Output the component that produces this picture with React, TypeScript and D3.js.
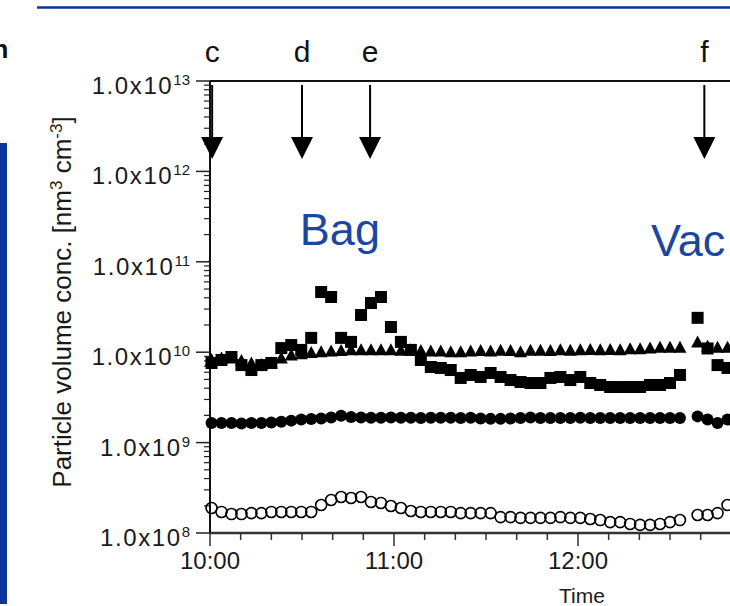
import React from "react";
import * as d3 from "d3";

// scan start times in minutes after 10:00 (instrument off between ~12:33 and ~12:39)
const scanMinutes = [
  0.5, 3.75, 7, 10.25, 13.5, 16.75, 20, 23.25, 26.5, 29.75,
  33, 36.25, 39.5, 42.75, 46, 49.25, 52.5, 55.75, 59, 62.25,
  65.5, 68.75, 72, 75.25, 78.5, 81.75, 85, 88.25, 91.5, 94.75,
  98, 101.25, 104.5, 107.75, 111, 114.25, 117.5, 120.75, 124, 127.25,
  130.5, 133.75, 137, 140.25, 143.5, 146.75, 150, 153.25,
  159, 162.25, 165.5, 168.75,
];

// filled squares
const squareVals = [
  7.6e9, 8.2e9, 8.85e9, 7.2e9, 6.35e9, 7.2e9, 7.6e9, 1.11e10, 1.2e10, 1.06e10,
  1.44e10, 4.63e10, 4.08e10, 1.44e10, 1.3e10, 2.58e10, 3.5e10, 4.08e10, 1.9e10, 1.3e10,
  1.06e10, 8.2e9, 6.86e9, 6.69e9, 6.35e9, 5.19e9, 5.6e9, 5.32e9, 5.89e9, 5.32e9,
  4.92e9, 4.68e9, 4.56e9, 4.56e9, 5.19e9, 5.32e9, 4.92e9, 5.32e9, 4.56e9, 4.34e9,
  4.12e9, 4.12e9, 4.12e9, 4.12e9, 4.34e9, 4.34e9, 4.56e9, 5.6e9,
  2.4e10, 1.1e10, 7.2e9, 6.7e9,
];

// filled triangles
const triangleVals = [
  8.2e9, 8.5e9, 8.5e9, 8.0e9, 7.5e9, 7.2e9, 7.5e9, 8.5e9, 9.2e9, 9.5e9,
  9.8e9, 1.0e10, 1.02e10, 1.03e10, 1.05e10, 1.05e10, 1.05e10, 1.05e10, 1.05e10, 1.04e10,
  1.05e10, 1.03e10, 1.02e10, 1.02e10, 1.0e10, 1.0e10, 1.02e10, 1.03e10, 1.02e10, 1.04e10,
  1.03e10, 1.0e10, 1.04e10, 1.04e10, 1.03e10, 1.05e10, 1.04e10, 1.05e10, 1.06e10, 1.05e10,
  1.06e10, 1.05e10, 1.08e10, 1.08e10, 1.1e10, 1.12e10, 1.12e10, 1.12e10,
  1.28e10, 1.15e10, 1.12e10, 1.12e10,
];

// filled circles
const dotVals = [
  1.65e9, 1.65e9, 1.65e9, 1.63e9, 1.65e9, 1.65e9, 1.67e9, 1.7e9, 1.75e9, 1.8e9,
  1.82e9, 1.85e9, 1.9e9, 1.98e9, 1.92e9, 1.9e9, 1.88e9, 1.88e9, 1.9e9, 1.88e9,
  1.88e9, 1.87e9, 1.88e9, 1.88e9, 1.88e9, 1.87e9, 1.88e9, 1.85e9, 1.83e9, 1.83e9,
  1.85e9, 1.87e9, 1.9e9, 1.87e9, 1.87e9, 1.87e9, 1.87e9, 1.88e9, 1.87e9, 1.87e9,
  1.87e9, 1.87e9, 1.87e9, 1.87e9, 1.87e9, 1.87e9, 1.87e9, 1.87e9,
  1.95e9, 1.8e9, 1.65e9, 1.8e9,
];

// open circles
const ringVals = [
  1.89e8, 1.71e8, 1.62e8, 1.62e8, 1.66e8, 1.66e8, 1.71e8, 1.71e8, 1.71e8, 1.71e8,
  1.71e8, 2.04e8, 2.32e8, 2.5e8, 2.44e8, 2.5e8, 2.2e8, 2.15e8, 1.99e8, 1.89e8,
  1.75e8, 1.71e8, 1.71e8, 1.71e8, 1.71e8, 1.66e8, 1.66e8, 1.66e8, 1.66e8, 1.5e8,
  1.5e8, 1.47e8, 1.47e8, 1.47e8, 1.47e8, 1.5e8, 1.47e8, 1.47e8, 1.43e8, 1.39e8,
  1.32e8, 1.32e8, 1.26e8, 1.23e8, 1.23e8, 1.26e8, 1.32e8, 1.39e8,
  1.58e8, 1.58e8, 1.66e8, 2.04e8,
];

const events = [
  { label: "c", min: 0.7 },
  { label: "d", min: 30 },
  { label: "e", min: 52.2 },
  { label: "f", min: 161.2 },
];
const notes = [
  { text: "Bag", min: 29.3, conc: 1.53e11 },
  { text: "Vac", min: 143.8, conc: 1.16e11 },
];
const decades = [8, 9, 10, 11, 12, 13];
const hourLabels = ["10:00", "11:00", "12:00", "13:00"];

const FONT = "'Liberation Sans', Arial, sans-serif";

const App = () => {
  const svgRef = React.useRef<SVGSVGElement>(null);

  React.useEffect(() => {
    const svg = d3.select(svgRef.current);
    svg.selectAll("*").remove();

    const left = 210;
    const top = 81;
    const bottom = 533;
    const x = d3.scaleLinear().domain([0, 180]).range([left, 762]);
    const y = d3.scaleLog().domain([1e8, 1e13]).range([bottom, top]);

    // slide decoration
    svg.append("line").attr("x1", 37).attr("x2", 730).attr("y1", 7.5).attr("y2", 7.5)
      .attr("stroke", "#0a3799").attr("stroke-width", 2.5);
    svg.append("rect").attr("x", 0).attr("y", 143).attr("width", 7).attr("height", 461)
      .attr("fill", "#0a3799");
    svg.append("text").attr("x", 8.5).attr("y", 58).attr("text-anchor", "end")
      .attr("font-family", FONT).attr("font-weight", "bold").attr("font-size", 26)
      .attr("fill", "#111").text("n");

    const g = svg.append("g");

    // y ticks: minor and major
    decades.slice(0, -1).forEach((d) => {
      d3.range(2, 10).forEach((k) => {
        const yy = y(k * Math.pow(10, d));
        g.append("line").attr("x1", left - 6).attr("x2", left).attr("y1", yy).attr("y2", yy)
          .attr("stroke", "#222").attr("stroke-width", 1.2);
      });
    });
    decades.forEach((d) => {
      const yy = y(Math.pow(10, d));
      g.append("line").attr("x1", left - 14).attr("x2", left).attr("y1", yy).attr("y2", yy)
        .attr("stroke", "#222").attr("stroke-width", 1.5);
      const t = g.append("text").attr("x", 190).attr("y", yy + 13).attr("text-anchor", "end")
        .attr("font-family", FONT).attr("font-size", 24).attr("letter-spacing", 1.6)
        .attr("fill", "#1a1a1a");
      t.append("tspan").text("1.0x10");
      t.append("tspan").attr("dy", -9).attr("font-size", 15).attr("letter-spacing", 0).text(String(d));
    });

    // x ticks every 10 minutes
    d3.range(0, 181, 10).forEach((m) => {
      const xx = x(m);
      const major = m % 60 === 0;
      g.append("line").attr("x1", xx).attr("x2", xx).attr("y1", bottom)
        .attr("y2", bottom + (major ? 13 : 7)).attr("stroke", "#333").attr("stroke-width", 1.5);
    });
    hourLabels.forEach((lab, i) => {
      g.append("text").attr("x", x(i * 60)).attr("y", 569).attr("text-anchor", "middle")
        .attr("font-family", FONT).attr("font-size", 24).attr("fill", "#1a1a1a").text(lab);
    });

    // frame / axes
    g.append("line").attr("x1", left).attr("x2", 730).attr("y1", top).attr("y2", top)
      .attr("stroke", "#111").attr("stroke-width", 2);
    g.append("line").attr("x1", left).attr("x2", 730).attr("y1", bottom).attr("y2", bottom)
      .attr("stroke", "#333").attr("stroke-width", 2.5);
    g.append("line").attr("x1", left).attr("x2", left).attr("y1", top).attr("y2", bottom)
      .attr("stroke", "#111").attr("stroke-width", 2);

    // axis titles
    g.append("text").attr("x", 582).attr("y", 603).attr("text-anchor", "middle")
      .attr("font-family", FONT).attr("font-size", 21).attr("fill", "#1a1a1a").text("Time");
    const yl = g.append("text").attr("transform", "translate(71,302) rotate(-90)")
      .attr("text-anchor", "middle").attr("font-family", FONT).attr("font-size", 26)
      .attr("fill", "#1a1a1a");
    yl.append("tspan").text("Particle volume conc. [nm");
    yl.append("tspan").attr("dy", -9).attr("font-size", 17).text("3");
    yl.append("tspan").attr("dy", 9).text(" cm");
    yl.append("tspan").attr("dy", -9).attr("font-size", 17).text("-3");
    yl.append("tspan").attr("dy", 9).text("]");

    const pts = (vals: number[]) => scanMinutes.map((m, i) => ({ m, v: vals[i] }));

    // triangles
    g.selectAll("path.tri").data(pts(triangleVals)).enter().append("path")
      .attr("class", "tri")
      .attr("transform", (d) => `translate(${x(d.m)},${y(d.v)})`)
      .attr("d", "M0,-7L6.5,5L-6.5,5Z").attr("fill", "#000");
    // squares
    g.selectAll("rect.sq").data(pts(squareVals)).enter().append("rect")
      .attr("class", "sq")
      .attr("x", (d) => x(d.m) - 6).attr("y", (d) => y(d.v) - 6)
      .attr("width", 12).attr("height", 12).attr("fill", "#000");
    // filled circles
    g.selectAll("circle.dot").data(pts(dotVals)).enter().append("circle")
      .attr("class", "dot")
      .attr("cx", (d) => x(d.m)).attr("cy", (d) => y(d.v)).attr("r", 6).attr("fill", "#000");
    // open circles
    g.selectAll("circle.ring").data(pts(ringVals)).enter().append("circle")
      .attr("class", "ring")
      .attr("cx", (d) => x(d.m)).attr("cy", (d) => y(d.v)).attr("r", 5.5)
      .attr("fill", "none").attr("stroke", "#000").attr("stroke-width", 1.6);

    // event arrows
    events.forEach((ev) => {
      const xx = x(ev.min);
      g.append("text").attr("x", xx).attr("y", 62).attr("text-anchor", "middle")
        .attr("font-family", FONT).attr("font-size", 30).attr("fill", "#111").text(ev.label);
      g.append("line").attr("x1", xx).attr("x2", xx).attr("y1", 85).attr("y2", 140)
        .attr("stroke", "#000").attr("stroke-width", 2);
      g.append("path").attr("d", `M${xx - 11},137L${xx + 11},137L${xx},159Z`).attr("fill", "#000");
    });

    // slide notes
    notes.forEach((n) => {
      g.append("text").attr("x", x(n.min)).attr("y", y(n.conc))
        .attr("font-family", FONT).attr("font-size", 45).attr("fill", "#1b47a0").text(n.text);
    });
  }, []);

  return (
    <svg
      ref={svgRef}
      width={730}
      height={606}
      style={{ position: "absolute", left: 0, top: 0, background: "#fff" }}
    />
  );
};

export default App;
